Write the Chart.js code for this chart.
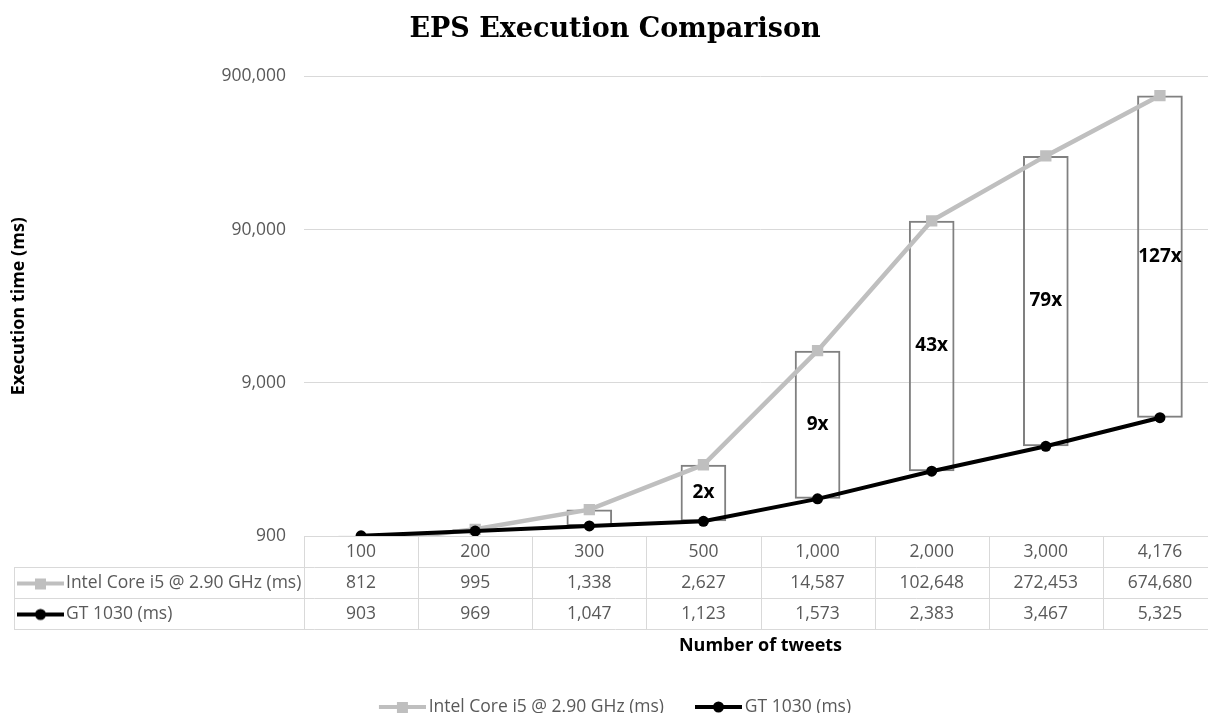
<!DOCTYPE html>
<html lang="en">
<head>
<meta charset="UTF-8">
<title>EPS Execution Comparison</title>
<script src="https://cdn.jsdelivr.net/npm/chart.js"></script>
<style>
  html, body { margin: 0; padding: 0; background: #ffffff; overflow: hidden; }
  #wrap { width: 1225px; height: 713px; }
</style>
</head>
<body>
<div id="wrap"><canvas id="grafico"></canvas></div>
<script>
// dados
const categories = ['100', '200', '300', '500', '1,000', '2,000', '3,000', '4,176'];
const seriesNames = ['Intel Core i5 @ 2.90 GHz (ms)', 'GT 1030 (ms)'];
const intelTimes = [812, 995, 1338, 2627, 14587, 102648, 272453, 674680];
const gpuTimes = [903, 969, 1047, 1123, 1573, 2383, 3467, 5325];
const speedupLabels = ['', '', '', '2x', '9x', '43x', '79x', '127x'];
const yTicks = [900, 9000, 90000, 900000];

const textGray = '#595959';
const gridGray = '#d9d9d9';
const baseFont = 'Open Sans';
const fontSize = 17.5;

// legend key: line with a marker, drawn on a small canvas
function makeKey(color, marker) {
  const c = document.createElement('canvas');
  c.width = 53; c.height = 14;
  const g = c.getContext('2d');
  g.strokeStyle = color;
  g.lineWidth = 4;
  g.beginPath(); g.moveTo(6, 7); g.lineTo(53, 7); g.stroke();
  g.fillStyle = color;
  if (marker === 'rect') {
    g.fillRect(24, 2, 11, 11);
  } else {
    g.beginPath(); g.arc(29.5, 7, 5.5, 0, Math.PI * 2); g.fill();
  }
  return c;
}
const intelKey = makeKey('#bfbfbf', 'rect');
const gpuKey = makeKey('#000000', 'circle');

// data table under the plot
const tablePlugin = {
  id: 'dataTable',
  afterDraw(chart) {
    const ctx = chart.ctx;
    const area = chart.chartArea;
    const x = chart.scales.x;
    const rowH = 31;
    const top = area.bottom;
    const leftEdge = 14;
    const colW = x.getPixelForValue(1) - x.getPixelForValue(0);
    ctx.save();
    ctx.strokeStyle = gridGray;
    ctx.lineWidth = 1;
    ctx.beginPath();
    ctx.moveTo(area.left, top + 0.5); ctx.lineTo(area.right, top + 0.5);
    for (let r = 1; r <= 3; r++) {
      const y = Math.round(top + r * rowH) + 0.5;
      ctx.moveTo(leftEdge, y); ctx.lineTo(area.right, y);
    }
    for (let i = 0; i <= categories.length; i++) {
      const xx = Math.round(x.getPixelForValue(0) - colW / 2 + i * colW) + 0.5;
      ctx.moveTo(xx, top); ctx.lineTo(xx, top + 3 * rowH);
    }
    ctx.moveTo(leftEdge + 0.5, top + rowH); ctx.lineTo(leftEdge + 0.5, top + 3 * rowH);
    ctx.stroke();

    ctx.font = fontSize + 'px "' + baseFont + '"';
    ctx.fillStyle = textGray;
    ctx.textBaseline = 'middle';
    const rows = [intelTimes, gpuTimes];
    const keys = [intelKey, gpuKey];
    rows.forEach((vals, r) => {
      const cy = top + (r + 1.5) * rowH + 1;
      ctx.drawImage(keys[r], 6, 0, 47, 14, 17, cy - 7, 47, 14);
      ctx.textAlign = 'left';
      ctx.fillText(seriesNames[r], 66, cy);
      ctx.textAlign = 'center';
      vals.forEach((v, i) => {
        ctx.fillText(v.toLocaleString('en-US'), x.getPixelForValue(i), cy);
      });
    });
    ctx.restore();
  }
};

// speed-up labels inside the boxes
const ratioPlugin = {
  id: 'ratioLabels',
  afterDatasetsDraw(chart) {
    const ctx = chart.ctx;
    const meta = chart.getDatasetMeta(0);
    ctx.save();
    ctx.font = 'bold 19px "' + baseFont + '"';
    ctx.fillStyle = '#000000';
    ctx.textAlign = 'center';
    ctx.textBaseline = 'middle';
    meta.data.forEach((bar, i) => {
      if (!speedupLabels[i]) return;
      ctx.fillText(speedupLabels[i], bar.x, (bar.y + bar.base) / 2);
    });
    ctx.restore();
  }
};

const ctx = document.getElementById('grafico');
const myChart = new Chart(ctx, {
  type: 'line',
  data: {
    labels: categories,
    datasets: [
      {
        type: 'bar',
        label: 'speedup',
        data: categories.map((c, i) => [gpuTimes[i], intelTimes[i]]),
        backgroundColor: 'rgba(0,0,0,0)',
        borderColor: '#808080',
        borderWidth: 2,
        borderSkipped: false,
        barPercentage: 0.4,
        categoryPercentage: 1,
        clip: { left: 5, right: 5, top: 5, bottom: 0 },
        order: 3
      },
      {
        label: seriesNames[0],
        data: intelTimes,
        borderColor: '#bfbfbf',
        backgroundColor: '#bfbfbf',
        borderWidth: 4.5,
        pointStyle: 'rect',
        pointRadius: 8,
        pointBorderWidth: 0,
        tension: 0,
        clip: { left: 10, right: 10, top: 10, bottom: 0 },
        order: 2
      },
      {
        label: seriesNames[1],
        data: gpuTimes,
        borderColor: '#000000',
        backgroundColor: '#000000',
        borderWidth: 4,
        pointStyle: 'circle',
        pointRadius: 5.5,
        pointBorderWidth: 0,
        tension: 0,
        order: 1
      }
    ]
  },
  options: {
    responsive: true,
    maintainAspectRatio: false,
    animation: false,
    layout: { padding: { left: 5, right: 0, top: 0, bottom: -12.75 } },
    scales: {
      x: {
        offset: true,
        grid: { display: false, drawTicks: false },
        border: { display: false },
        ticks: { color: textGray, font: { family: baseFont, size: fontSize }, padding: 6, maxRotation: 0 },
        title: {
          display: true,
          text: 'Number of tweets',
          color: '#000000',
          font: { family: baseFont, size: 18, weight: 'bold' },
          padding: { top: 0, bottom: 10.45 }
        },
        afterFit(scale) { scale.height = 131.25; }
      },
      y: {
        type: 'logarithmic',
        min: 900,
        max: 900000,
        grid: { color: gridGray, lineWidth: 1, drawTicks: false },
        border: { display: false },
        ticks: {
          color: textGray,
          font: { family: baseFont, size: fontSize },
          padding: 18,
          callback: (v) => Number(v).toLocaleString('en-US')
        },
        afterBuildTicks(scale) { scale.ticks = yTicks.map(v => ({ value: v })); },
        title: {
          display: true,
          text: 'Execution time (ms)',
          color: '#000000',
          font: { family: baseFont, size: 18, weight: 'bold' },
          padding: 3
        },
        afterFit(scale) { scale.width = 299; }
      }
    },
    plugins: {
      title: {
        display: true,
        text: 'EPS Execution Comparison',
        color: '#000000',
        font: { family: 'DejaVu Serif', size: 27, weight: 'bold' },
        padding: { top: 14, bottom: 30 }
      },
      legend: {
        position: 'bottom',
        labels: {
          usePointStyle: true,
          pointStyleWidth: 41,
          boxHeight: 14,
          padding: 31,
          color: textGray,
          font: { family: baseFont, size: fontSize },
          generateLabels: () => [
            { text: seriesNames[0], pointStyle: intelKey, fillStyle: 'rgba(0,0,0,0)', strokeStyle: 'rgba(0,0,0,0)', lineWidth: 0, fontColor: textGray, datasetIndex: 1 },
            { text: seriesNames[1], pointStyle: gpuKey, fillStyle: 'rgba(0,0,0,0)', strokeStyle: 'rgba(0,0,0,0)', lineWidth: 0, fontColor: textGray, datasetIndex: 2 }
          ]
        }
      },
      tooltip: { enabled: false }
    }
  },
  plugins: [tablePlugin, ratioPlugin]
});
</script>
</body>
</html>
